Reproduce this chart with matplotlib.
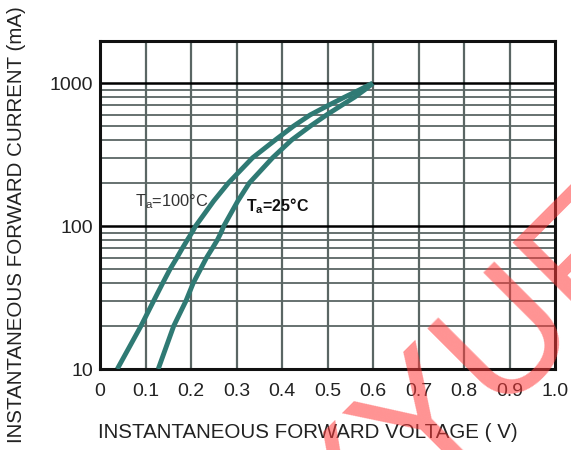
import numpy as np
import matplotlib
matplotlib.use("Agg")
import matplotlib.pyplot as plt
from matplotlib.ticker import FixedLocator, NullFormatter

plt.rcParams['font.family'] = ['Liberation Sans', 'DejaVu Sans']

# Data
i_pts = [10, 20, 30, 40, 50, 60, 70, 80, 90, 100, 150, 200, 300, 400, 500, 600, 700, 800, 900, 1000]
v_100 = [0.038, 0.090, 0.118, 0.138, 0.154, 0.169, 0.181, 0.192, 0.202, 0.210, 0.250,
         0.282, 0.335, 0.385, 0.425, 0.462, 0.502, 0.538, 0.571, 0.599]
v_25 = [0.128, 0.162, 0.189, 0.205, 0.221, 0.234, 0.247, 0.258, 0.266, 0.272, 0.303,
        0.328, 0.379, 0.421, 0.462, 0.498, 0.531, 0.560, 0.582, 0.600]

x_ticks = [0, 0.1, 0.2, 0.3, 0.4, 0.5, 0.6, 0.7, 0.8, 0.9, 1.0]
x_labels = ["0", "0.1", "0.2", "0.3", "0.4", "0.5", "0.6", "0.7", "0.8", "0.9", "1.0"]
y_ticks = [10, 100, 1000]
y_labels = ["10", "100", "1000"]

fig = plt.figure(figsize=(5.71, 4.5), dpi=100)
ax = fig.add_axes([100/571, 1-369/450, 455/571, 328/450])
ax.set_yscale('log')
ax.set_xlim(0, 1.0)
ax.set_ylim(10, 1973)

grid_c = '#5a6664'
for x in x_ticks[1:-1]:
    ax.axvline(x, color=grid_c, lw=1.6, zorder=1)
for dec in [10, 100]:
    for m in range(2, 10):
        ax.axhline(dec*m, color=grid_c, lw=1.3, zorder=1)
for y in [100, 1000]:
    ax.axhline(y, color='black', lw=1.8, zorder=1)

teal = '#2f7a74'
ax.plot(v_100, i_pts, color=teal, lw=3.5, solid_capstyle='butt',
        solid_joinstyle='round', zorder=3)
ax.plot(v_25, i_pts, color=teal, lw=3.5, solid_capstyle='butt',
        solid_joinstyle='round', zorder=3)

ax.text(0.077, 137, r'T$_\mathregular{a}$=100°C', fontsize=11.8, color='#333333',
        va='baseline', zorder=4)
ax.text(0.321, 126, r'T$_\mathregular{a}$=25°C', fontsize=11.5, color='#111111',
        fontweight='bold', va='baseline', zorder=4)

ax.set_xticks(x_ticks)
ax.set_xticklabels(x_labels)
ax.yaxis.set_major_locator(FixedLocator(y_ticks))
ax.set_yticklabels(y_labels)
ax.yaxis.set_minor_formatter(NullFormatter())
ax.tick_params(which='both', length=0, labelsize=14, colors='#222222')
ax.tick_params(axis='x', pad=10)
ax.tick_params(axis='y', pad=5)
for s in ax.spines.values():
    s.set_linewidth(2.2)
    s.set_color('#111111')

fig.text(308/571, 1-433/450, 'INSTANTANEOUS FORWARD VOLTAGE ( V)', fontsize=14.8,
         color='#222222', ha='center', va='center')
fig.text(17/571, 1-225/450, 'INSTANTANEOUS FORWARD CURRENT (mA)', fontsize=14.8,
         color='#222222', ha='center', va='center', rotation=90)

# watermark
fig.text(472/571, 1-382/450, 'XYUE', fontsize=120, color='#ff3a3a', alpha=0.55,
         rotation=45, ha='center', va='center', zorder=10)

fig.savefig('out.png', dpi=100)
